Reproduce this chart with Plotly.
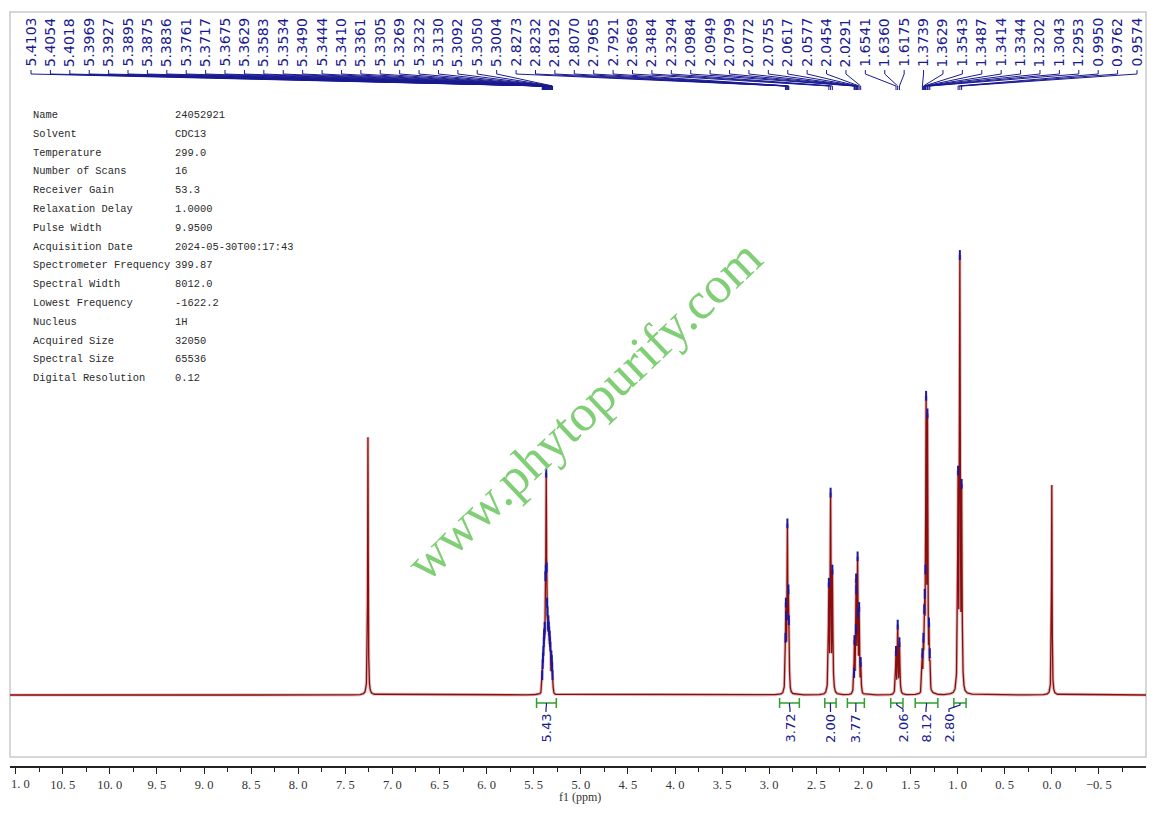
import numpy as np
import plotly.graph_objects as go

# ---------------- data ----------------
# picked peaks (ppm) and their relative intensities (tallest = 100)
peak_ppm = [5.4103, 5.4054, 5.4018, 5.3969, 5.3927, 5.3895, 5.3875, 5.3836, 5.3761, 5.3717,
            5.3675, 5.3629, 5.3583, 5.3534, 5.3490, 5.3444, 5.3410, 5.3361, 5.3305, 5.3269,
            5.3232, 5.3130, 5.3092, 5.3050, 5.3004,
            2.8273, 2.8232, 2.8192, 2.8070, 2.7965, 2.7921,
            2.3669, 2.3484, 2.3294,
            2.0984, 2.0949, 2.0799, 2.0772, 2.0755, 2.0617, 2.0577, 2.0454, 2.0291,
            1.6541, 1.6360, 1.6175,
            1.3739, 1.3629, 1.3543, 1.3487, 1.3414, 1.3344, 1.3202, 1.3043, 1.2953,
            0.9950, 0.9762, 0.9574]
peak_int = [4.5, 7, 8.5, 10, 12, 13.5, 14, 15.5, 27, 28.5,
            50.5, 29, 21, 19, 16, 17, 15.5, 14.5, 13.5, 12,
            11, 9, 8, 6.5, 4.5,
            13, 21, 18, 39, 24, 17,
            25.5, 46, 28.5,
            5, 12.5, 15, 26.5, 24, 31.5, 18.5, 20, 7.5,
            10, 16, 12,
            9.5, 13, 19.5, 23, 28.5, 68, 64, 16.5, 9.5,
            51, 100, 48]
peak_labels = ["%.4f" % p for p in peak_ppm]

# un-picked lines: CDCl3 residual and TMS
ref_ppm = [7.26, 0.00]
ref_int = [58.6, 47.7]

# integrals
integral_from = [5.47, 2.89, 2.41, 2.17, 1.71, 1.45, 1.04]
integral_to = [5.26, 2.68, 2.29, 1.99, 1.58, 1.21, 0.91]
integral_val = ["5.43", "3.72", "2.00", "3.77", "2.06", "8.12", "2.80"]

# acquisition parameters
param_names = ["Name", "Solvent", "Temperature", "Number of Scans", "Receiver Gain",
               "Relaxation Delay", "Pulse Width", "Acquisition Date", "Spectrometer Frequency",
               "Spectral Width", "Lowest Frequency", "Nucleus", "Acquired Size",
               "Spectral Size", "Digital Resolution"]
param_values = ["24052921", "CDC13", "299.0", "16", "53.3", "1.0000", "9.9500",
                "2024-05-30T00:17:43", "399.87", "8012.0", "-1622.2", "1H", "32050",
                "65536", "0.12"]

# x-axis ticks (leftmost label is shown as "1. 0" at the edge, as in the reference)
tick_vals = [11.0, 10.5, 10.0, 9.5, 9.0, 8.5, 8.0, 7.5, 7.0, 6.5, 6.0, 5.5, 5.0, 4.5,
             4.0, 3.5, 3.0, 2.5, 2.0, 1.5, 1.0, 0.5, 0.0, -0.5]
tick_text = ["", "10. 5", "10. 0", "9. 5", "9. 0", "8. 5", "8. 0", "7. 5", "7. 0",
             "6. 5", "6. 0", "5. 5", "5. 0", "4. 5", "4. 0", "3. 5", "3. 0", "2. 5",
             "2. 0", "1. 5", "1. 0", "0. 5", "0. 0", "\u22120. 5"]
edge_tick_text = "1. 0"

# ---------------- layout geometry (page pixels; the page body adds an 8px offset) ----------------
OFF = 8
W, H = 1157 - OFF, 813 - OFF
PL, PR, PT, PB = 10, 1146, 12, 766          # plot area in page pixels
X_LEFT, X_RIGHT = 11.06, -1.0
PX_PER_UNIT = 4.4
BASE_PX = 695
Y_RANGE = [-(PB - BASE_PX) / PX_PER_UNIT, (BASE_PX - PT) / PX_PER_UNIT]


def py(p):
    return (PB - p) / (PB - PT)


def pxp(p):
    return (p - PL) / (PR - PL)


def px2ppm(p):
    return X_LEFT - pxp(p) * (X_LEFT - X_RIGHT)


# ---------------- spectrum ----------------
line_ppm = np.array(peak_ppm + ref_ppm)
line_int = np.array(peak_int + ref_int)
line_w = np.array([0.0055] * len(peak_ppm) + [0.0035] * len(ref_ppm))

grid = np.arange(X_RIGHT, X_LEFT, 0.0008)
grid = np.unique(np.concatenate([grid, line_ppm]))
spec = np.max(line_int[:, None] / (1 + ((grid[None, :] - line_ppm[:, None]) / line_w[:, None]) ** 2), axis=0)

fig = go.Figure()
fig.add_trace(go.Scatter(x=grid, y=spec, mode="lines",
                         line=dict(color="rgba(185,120,120,0.45)", width=3.2),
                         hoverinfo="skip", showlegend=False))
fig.add_trace(go.Scatter(x=grid, y=spec, mode="lines",
                         line=dict(color="#8b0d0d", width=1.3),
                         hoverinfo="skip", showlegend=False))
fig.add_trace(go.Scatter(x=peak_ppm, y=peak_int, mode="markers",
                         marker=dict(symbol="line-ns", size=7,
                                     line=dict(color="#1818a8", width=2)),
                         hoverinfo="skip", showlegend=False))

shapes = []
annotations = []

# frame
shapes.append(dict(type="rect", xref="paper", yref="paper", x0=0, x1=1, y0=py(757), y1=1,
                   line=dict(color="#c9c9c9", width=1.5), layer="below"))

# peak labels with connectors
n = len(peak_ppm)
label_left_px, label_right_px = 31, 1137
for i, (p, lab) in enumerate(zip(peak_ppm, peak_labels)):
    lx = px2ppm(label_left_px + i * (label_right_px - label_left_px) / (n - 1))
    annotations.append(dict(x=lx, y=py(69), xref="x", yref="paper", text=lab,
                            textangle=-90, showarrow=False, xanchor="center", yanchor="bottom",
                            font=dict(family="DejaVu Sans", size=14, color="#1a1a90")))
    path = "M %.5f,%.5f L %.5f,%.5f L %.5f,%.5f L %.5f,%.5f" % (
        lx, py(70), lx, py(74), p, py(86), p, py(90))
    shapes.append(dict(type="path", xref="x", yref="paper", path=path,
                       line=dict(color="#1a1a90", width=1)))

# integrals
integral_label_px = [546, 790, 830.5, 855.8, 903, 926, 949]
for f, t, v, lpx in zip(integral_from, integral_to, integral_val, integral_label_px):
    c = (f + t) / 2
    lx = px2ppm(lpx)
    green = "#2f9f2f"
    shapes.append(dict(type="line", xref="x", yref="paper", x0=f, x1=t, y0=py(703), y1=py(703),
                       line=dict(color=green, width=1.5)))
    for e in (f, t):
        shapes.append(dict(type="line", xref="x", yref="paper", x0=e, x1=e, y0=py(698), y1=py(708),
                           line=dict(color=green, width=1.5)))
    path = "M %.5f,%.5f L %.5f,%.5f L %.5f,%.5f L %.5f,%.5f" % (
        c, py(703), c, py(705), lx, py(709), lx, py(712))
    shapes.append(dict(type="path", xref="x", yref="paper", path=path,
                       line=dict(color="#1a1a90", width=1.2)))
    annotations.append(dict(x=lx, y=py(712), xref="x", yref="paper", text=v,
                            textangle=-90, showarrow=False, xanchor="center", yanchor="top",
                            font=dict(family="DejaVu Sans", size=13, color="#1a1a90")))

# parameter table
for k, (nm, vl) in enumerate(zip(param_names, param_values)):
    yy = py(115 + k * 18.8)
    annotations.append(dict(x=pxp(31), y=yy, xref="paper", yref="paper", text=nm,
                            showarrow=False, xanchor="left", yanchor="middle",
                            font=dict(family="Liberation Mono", size=10.4, color="#2a2a2a")))
    annotations.append(dict(x=pxp(173), y=yy, xref="paper", yref="paper", text=vl,
                            showarrow=False, xanchor="left", yanchor="middle",
                            font=dict(family="Liberation Mono", size=10.4, color="#2a2a2a")))

# watermark
annotations.append(dict(x=pxp(583), y=py(410), xref="paper", yref="paper",
                        text="www.phytopurify.com", textangle=-43.5, showarrow=False,
                        xanchor="center", yanchor="middle",
                        font=dict(family="Liberation Serif", size=52, color="rgb(128,206,118)")))

# leftmost tick label, kept inside the page edge
annotations.append(dict(x=pxp(9), y=py(784), xref="paper", yref="paper",
                        text=edge_tick_text, showarrow=False, xanchor="left", yanchor="middle",
                        font=dict(family="Liberation Serif", size=12.5, color="#333333")))

# axis title
annotations.append(dict(x=pxp(580), y=py(797), xref="paper", yref="paper",
                        text="f1 (ppm)", showarrow=False, xanchor="center", yanchor="middle",
                        font=dict(family="Liberation Serif", size=12, color="#333333")))

fig.update_layout(
    width=W, height=H,
    margin=dict(l=PL - OFF, r=W - (PR - OFF), t=PT - OFF, b=H - (PB - OFF), pad=0, autoexpand=False),
    paper_bgcolor="white", plot_bgcolor="white",
    shapes=shapes, annotations=annotations,
    xaxis=dict(range=[X_LEFT, X_RIGHT], showgrid=False, zeroline=False, automargin=False,
               showline=True, linecolor="#222222", linewidth=1.5,
               ticks="outside", ticklen=6, tickwidth=1.2, tickcolor="#222222",
               tickmode="array", tickvals=tick_vals, ticktext=tick_text,
               ticklabeloverflow="allow",
               tickfont=dict(family="Liberation Serif", size=12.5, color="#333333"),
               minor=dict(tickmode="linear", tick0=0.25, dtick=0.5, ticks="outside",
                          ticklen=4, tickwidth=1, tickcolor="#222222")),
    yaxis=dict(range=Y_RANGE, visible=False, showgrid=False, zeroline=False, automargin=False),
)

fig.write_html("out.html")
